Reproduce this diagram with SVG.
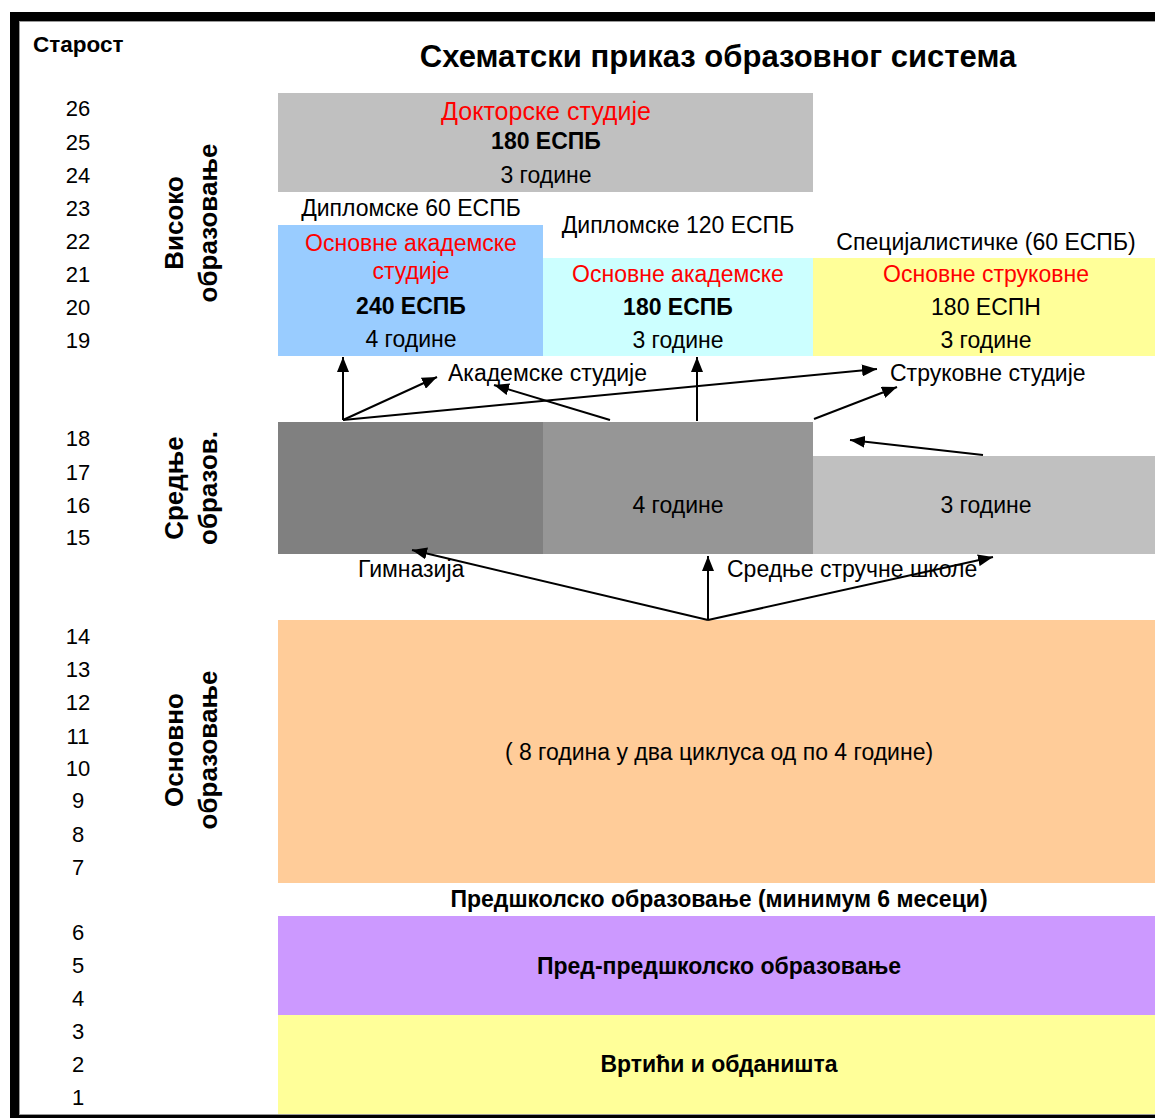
<svg xmlns="http://www.w3.org/2000/svg" width="1155" height="1118" viewBox="0 0 1155 1118">
<defs>
<marker id="ah" markerUnits="userSpaceOnUse" markerWidth="16" markerHeight="12" refX="15" refY="6" orient="auto">
<path d="M0,0 L15,6 L0,12 z" fill="#000"/>
</marker>
</defs>
<style>
text{font-family:"Liberation Sans",Arial,sans-serif;fill:#000}
.age{font-size:22px;text-anchor:middle}
.t{font-size:23px;text-anchor:middle}
.b{font-weight:bold}
.r{fill:#FF0000}
.lab{font-size:26px;font-weight:bold;text-anchor:middle}
.c line{stroke:#000;stroke-width:2;marker-end:url(#ah)}
</style>
<rect x="0" y="0" width="1155" height="1118" fill="#fff"/>
<!-- frame -->
<g id="frame">
<rect x="10" y="12" width="1145" height="9" fill="#000"/>
<rect x="10" y="12" width="9" height="1106" fill="#000"/>
<rect x="10" y="1115" width="1145" height="3" fill="#000"/>
<line x1="19.5" y1="21" x2="19.5" y2="1114" stroke="#999" stroke-width="1"/>
<line x1="19" y1="21.5" x2="1155" y2="21.5" stroke="#999" stroke-width="1"/>
<line x1="19" y1="1114.5" x2="1155" y2="1114.5" stroke="#999" stroke-width="1"/>
</g>
<text x="33" y="52" style="font-size:22.5px;font-weight:bold">Старост</text>
<text x="718" y="67" style="font-size:31px;font-weight:bold;text-anchor:middle">Схематски приказ образовног система</text>
<g id="ages">
<text class="age" x="78" y="116">26</text>
<text class="age" x="78" y="150">25</text>
<text class="age" x="78" y="183">24</text>
<text class="age" x="78" y="216">23</text>
<text class="age" x="78" y="249">22</text>
<text class="age" x="78" y="282">21</text>
<text class="age" x="78" y="315">20</text>
<text class="age" x="78" y="348">19</text>
<text class="age" x="78" y="446">18</text>
<text class="age" x="78" y="480">17</text>
<text class="age" x="78" y="513">16</text>
<text class="age" x="78" y="545">15</text>
<text class="age" x="78" y="644">14</text>
<text class="age" x="78" y="677">13</text>
<text class="age" x="78" y="710">12</text>
<text class="age" x="78" y="744">11</text>
<text class="age" x="78" y="776">10</text>
<text class="age" x="78" y="808">9</text>
<text class="age" x="78" y="842">8</text>
<text class="age" x="78" y="875">7</text>
<text class="age" x="78" y="940">6</text>
<text class="age" x="78" y="973">5</text>
<text class="age" x="78" y="1006">4</text>
<text class="age" x="78" y="1039">3</text>
<text class="age" x="78" y="1072">2</text>
<text class="age" x="78" y="1105">1</text>
</g>
<g id="levels">
<text class="lab" transform="translate(183,223) rotate(-90)">Високо</text>
<text class="lab" transform="translate(217,223) rotate(-90)">образовање</text>
<text class="lab" transform="translate(183,488) rotate(-90)">Средње</text>
<text class="lab" transform="translate(217,488) rotate(-90)">образов.</text>
<text class="lab" transform="translate(183,750) rotate(-90)">Основно</text>
<text class="lab" transform="translate(217,750) rotate(-90)">образовање</text>
</g>
<g id="doktorske">
<rect x="278" y="93" width="535" height="99" fill="#C0C0C0"/>
<text class="t r" x="546" y="120" style="font-size:25px">Докторске студије</text>
<text class="t b" x="546" y="149">180 ЕСПБ</text>
<text class="t" x="546" y="183">3 године</text>
</g>
<text class="t" x="411" y="216">Дипломске 60 ЕСПБ</text>
<text class="t" x="678" y="233">Дипломске 120 ЕСПБ</text>
<text class="t" x="986" y="250">Специјалистичке (60 ЕСПБ)</text>
<g id="osn-akad-240">
<rect x="278" y="225" width="265" height="131" fill="#99CCFF"/>
<text class="t r" x="411" y="251">Основне академске</text>
<text class="t r" x="411" y="279">студије</text>
<text class="t b" x="411" y="314">240 ЕСПБ</text>
<text class="t" x="411" y="347">4 године</text>
</g>
<g id="osn-akad-180">
<rect x="543" y="258" width="270" height="98" fill="#CCFFFF"/>
<text class="t r" x="678" y="282">Основне академске</text>
<text class="t b" x="678" y="315">180 ЕСПБ</text>
<text class="t" x="678" y="348">3 године</text>
</g>
<g id="osn-strukovne">
<rect x="813" y="258" width="342" height="98" fill="#FFFF99"/>
<text class="t r" x="986" y="282">Основне струковне</text>
<text class="t" x="986" y="315">180 ЕСПН</text>
<text class="t" x="986" y="348">3 године</text>
</g>
<text x="448" y="381" style="font-size:23px">Академске студије</text>
<text x="890" y="381" style="font-size:23px">Струковне студије</text>
<g id="gimnazija">
<rect x="278" y="422" width="265" height="132" fill="#808080"/>
</g>
<g id="srednje-4">
<rect x="543" y="422" width="270" height="132" fill="#969696"/>
<text class="t" x="678" y="513">4 године</text>
</g>
<g id="srednje-3">
<rect x="813" y="456" width="342" height="98" fill="#C0C0C0"/>
<text class="t" x="986" y="513">3 године</text>
</g>
<text x="358" y="577" style="font-size:23px">Гимназија</text>
<text x="727" y="577" style="font-size:23px">Средње стручне школе</text>
<g id="osnovno">
<rect x="278" y="620" width="877" height="263" fill="#FFCC99"/>
<text class="t" x="719" y="760">( 8 година у два циклуса од по 4 године)</text>
</g>
<text class="t b" x="719" y="907">Предшколско образовање (минимум 6 месеци)</text>
<g id="pred-predskolsko">
<rect x="278" y="916" width="877" height="99" fill="#CC99FF"/>
<text class="t b" x="719" y="974">Пред-предшколско образовање</text>
</g>
<g id="vrtici">
<rect x="278" y="1015" width="877" height="99" fill="#FFFF99"/>
<text class="t b" x="719" y="1072">Вртићи и обданишта</text>
</g>
<g id="connectors" class="c">
<line x1="343" y1="420" x2="343" y2="357"/>
<line x1="343" y1="420" x2="437" y2="377"/>
<line x1="343" y1="420" x2="877" y2="369"/>
<line x1="610" y1="420" x2="494" y2="385"/>
<line x1="697" y1="421" x2="697" y2="357"/>
<line x1="814" y1="419" x2="897" y2="387"/>
<line x1="983" y1="455" x2="850" y2="440"/>
<line x1="708" y1="620" x2="412" y2="550"/>
<line x1="708" y1="620" x2="708" y2="556"/>
<line x1="708" y1="620" x2="993" y2="557"/>
</g>
</svg>
